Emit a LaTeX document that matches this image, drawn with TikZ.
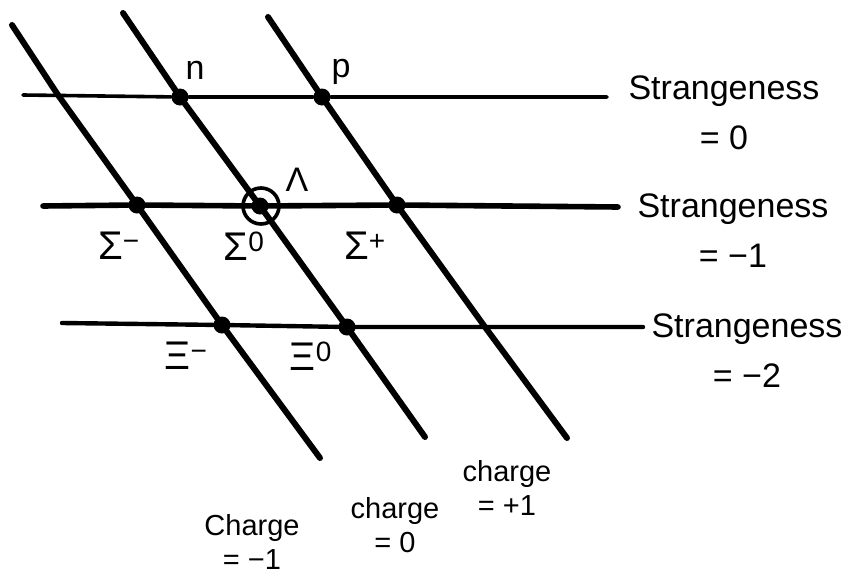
\documentclass[tikz,border=0pt]{standalone}
\usepackage{fontspec}
\setmainfont{Liberation Sans}
\usetikzlibrary{positioning}
\tikzset{
  levelline/.style={line width=4.4pt, line cap=round, line join=round},
  chargeline/.style={line width=6pt, line cap=round, line join=round},
  particle/.style={circle, fill=black, inner sep=0pt, minimum size=17pt},
  plabel/.style={inner sep=1pt, font=\fontsize{34}{36}\selectfont},
  quarklabel/.style={inner sep=1pt, font=\fontsize{40}{42}\selectfont},
  strangelabel/.style={align=center, inner sep=0pt, font=\fontsize{34}{50}\selectfont},
  chargelabel/.style={align=center, inner sep=0pt, font=\fontsize{29}{34}\selectfont}
}

\begin{document}
\begin{tikzpicture}[x=1pt, y=-1pt]
\useasboundingbox (0,0) rectangle (846,576);

% particles at the crossings
\node[particle] (n) at (180,97) {};
\node[particle] (p) at (322,97) {};
\node[particle] (sigm) at (137,205) {};
\node[particle] (sigz) at (260,206) {};
\node[particle] (sigp) at (397,205) {};
\node[particle] (xim) at (222,325) {};
\node[particle] (xiz) at (347,327) {};
\node[draw, circle, line width=3.6pt, inner sep=0pt, minimum size=36pt] (lam) at (261,206) {};

% free ends of the lines
\coordinate (szeroL) at (23,95);
\coordinate (szeroR) at (607,97);
\coordinate (soneL) at (43,206);
\coordinate (soneR) at (618,207);
\coordinate (stwoL) at (62,323);
\coordinate (stwoR) at (643,327);
\coordinate (qmT) at (12,25);
\coordinate (qmM) at (58,95);
\coordinate (qmB) at (320,458);
\coordinate (qzT) at (123,13);
\coordinate (qzB) at (425,437);
\coordinate (qpT) at (268,17);
\coordinate (qpM) at (485,327);
\coordinate (qpB) at (567,438);

% strangeness lines
\draw[levelline, line width=3.6pt] (szeroL) -- (n) -- (p) -- (szeroR);
\draw[levelline, line width=5.6pt] (soneL) -- (sigm) -- (sigz) -- (sigp) -- (soneR);
\draw[levelline] (stwoL) -- (xim) -- (xiz) -- (stwoR);

% charge lines
\draw[chargeline] (qmT) -- (qmM) -- (sigm.center) -- (xim.center) -- (qmB);
\draw[chargeline] (qzT) -- (n.center) -- (sigz.center) -- (xiz.center) -- (qzB);
\draw[chargeline] (qpT) -- (p.center) -- (sigp.center) -- (qpM) -- (qpB);

% particle names
\node[plabel] (nlbl) at (195,70) {n};
\node[plabel] (plbl) at (341,72) {p};
\node[plabel] (lamlbl) at (297,180) {Λ};
\node[quarklabel] (sigmlbl) at (119,246) {Σ\textsuperscript{−}};
\node[quarklabel] (sigzlbl) at (244,246) {Σ\textsuperscript{0}};
\node[quarklabel] (sigplbl) at (365,246) {Σ\textsuperscript{+}};
\node[quarklabel] (ximlbl) at (186,356) {Ξ\textsuperscript{−}};
\node[quarklabel] (xizlbl) at (311,356) {Ξ\textsuperscript{0}};

% axis labels
\node[strangelabel] (szero) at (724,113) {Strangeness\\= 0};
\node[strangelabel] (sone) at (733,231) {Strangeness\\= −1};
\node[strangelabel] (stwo) at (747,351) {Strangeness\\= −2};
\node[chargelabel] (qm) at (252,542) {Charge\\= −1};
\node[chargelabel] (qz) at (395,525) {charge\\= 0};
\node[chargelabel] (qp) at (507,488) {charge\\= +1};
\end{tikzpicture}
\end{document}
